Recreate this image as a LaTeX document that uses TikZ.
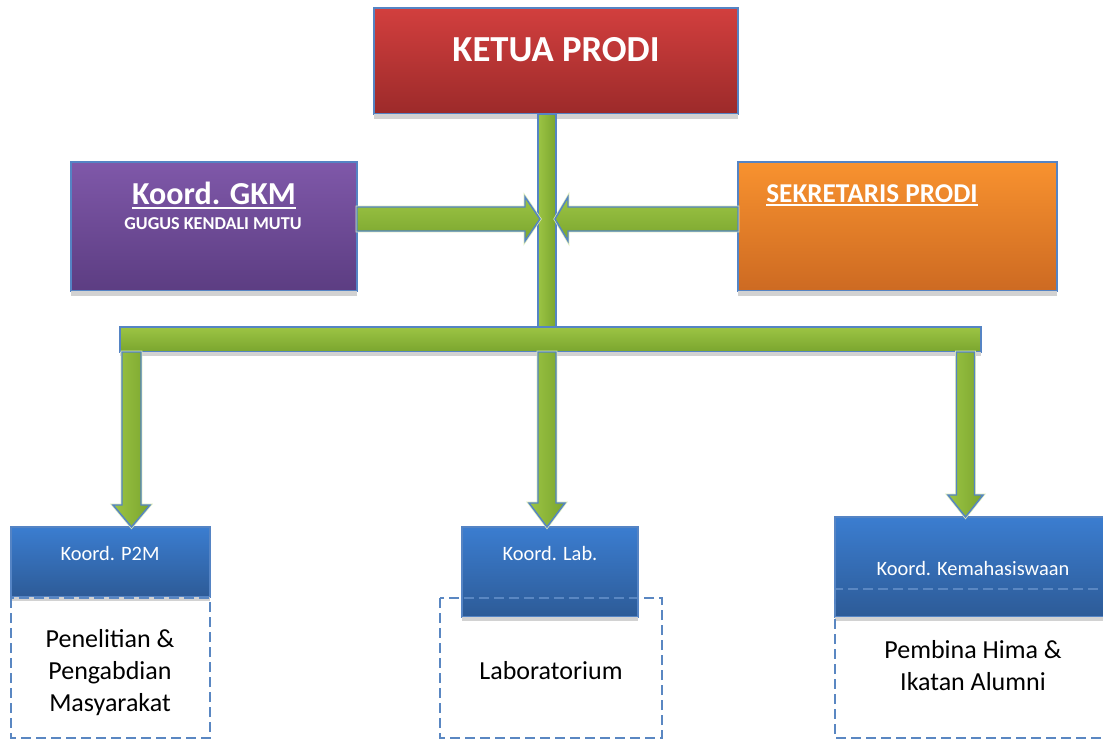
\documentclass[tikz,border=0pt]{standalone}
\usepackage{fontspec}
\setmainfont{Carlito}
\definecolor{redtop}{HTML}{D23F3E}
\definecolor{redbot}{HTML}{9C2A2A}
\definecolor{purtop}{HTML}{7F58A9}
\definecolor{purbot}{HTML}{5C3D82}
\definecolor{orgtop}{HTML}{F8922F}
\definecolor{orgbot}{HTML}{CD6A22}
\definecolor{blutop}{HTML}{3B7DD0}
\definecolor{blubot}{HTML}{2D5B97}
\definecolor{edge}{HTML}{5584C4}
\definecolor{dashcol}{HTML}{5A87C2}
\definecolor{grnlight}{HTML}{9CC444}
\definecolor{grndark}{HTML}{7AA52E}
\definecolor{glow}{HTML}{DCEBB8}
\definecolor{shadowcol}{HTML}{D2D2D2}
\begin{document}
\begin{tikzpicture}[x=0.75pt,y=-0.75pt,line join=miter]
\useasboundingbox (0,0) rectangle (1103,740);
\clip (0,0) rectangle (1103,740);
\tikzset{
  box/.style={draw=edge,line width=1.1pt,inner sep=0pt,outer sep=0pt},
  redbox/.style={box,top color=redtop,bottom color=redbot},
  purbox/.style={box,top color=purtop,bottom color=purbot},
  orgbox/.style={box,top color=orgtop,bottom color=orgbot},
  blubox/.style={box,top color=blutop,bottom color=blubot},
  hgreen/.style={draw=edge,line width=1.1pt,top color=grnlight,bottom color=grndark,
     preaction={draw=glow,line width=2.2pt}},
  vgreen/.style={draw=edge,line width=1.1pt,left color=grnlight,right color=grndark,
     preaction={draw=glow,line width=2.2pt}},
  dashbox/.style={draw=dashcol,line width=1.5pt,dash pattern=on 7.5pt off 3.75pt},
  txt/.style={inner sep=0pt,outer sep=0pt,anchor=base},
}
% ---------- boxes ----------
\node[redbox,minimum width={364*0.75pt},minimum height={106*0.75pt}] (ketua) at (556,61) {};
\node[purbox,minimum width={286*0.75pt},minimum height={129*0.75pt}] (gkm) at (214,226.5) {};
\node[orgbox,minimum width={319*0.75pt},minimum height={129*0.75pt}] (sek) at (897.5,226.5) {};
\fill[shadowcol] (ketua.south west) rectangle ([yshift=-3.5pt]ketua.south east);
\fill[shadowcol] (gkm.south west) rectangle ([yshift=-3.5pt]gkm.south east);
\fill[shadowcol] (sek.south west) rectangle ([yshift=-3.5pt]sek.south east);

\node[blubox,minimum width={199*0.75pt},minimum height={70*0.75pt}] (p2m) at (110.5,562) {};
\node[blubox,minimum width={176*0.75pt},minimum height={90*0.75pt}] (lab) at (550,572) {};
\node[blubox,minimum width={280*0.75pt},minimum height={100*0.75pt}] (kema) at (975,567) {};
\fill[shadowcol] (p2m.south west) rectangle ([yshift=-3pt]p2m.south east);
\fill[shadowcol] (lab.south west) rectangle ([yshift=-3pt]lab.south east);
\fill[shadowcol] (kema.south west) rectangle ([yshift=-3pt]kema.south east);

% ---------- connectors ----------
\coordinate (hub) at (547,219);
\coordinate (barc) at (550.5,339.5);
\path[vgreen] ([xshift=-6.75pt]ketua.south -| hub) rectangle ([xshift=6.75pt,yshift=-9pt]barc -| hub);
\node[hgreen,inner sep=0pt,outer sep=0pt,minimum width={861*0.75pt},minimum height={25*0.75pt}] (bar) at (barc) {};
\fill[shadowcol] (bar.south west) rectangle ([yshift=-3pt]bar.south east);

% horizontal arrows into the stem
\coordinate (tipL) at (540,219);
\coordinate (tipR) at (555,219);
\path[hgreen] (tipL) -- ++(-15,-22) -- ++(0,10) -- (gkm.east |- 0,207) -- (gkm.east |- 0,231) -- ++(168,0) -- ++(0,10) -- cycle;
\path[hgreen] (tipR) -- ++(13,-22) -- ++(0,10) -- (sek.west |- 0,207) -- (sek.west |- 0,231) -- ++(-170,0) -- ++(0,10) -- cycle;

% downward arrows
\coordinate (d1) at (131.5,527);
\coordinate (d2) at (547,527);
\coordinate (d3) at (965.5,517);
\path[vgreen] (d1) -- ++(-18.5,-22) -- ++(9,0) -- ++(0,-153) -- ++(19,0) -- ++(0,153) -- ++(9,0) -- cycle;
\path[vgreen] (d2) -- ++(-18,-24) -- ++(9,0) -- ++(0,-151) -- ++(18,0) -- ++(0,151) -- ++(9,0) -- cycle;
\path[vgreen] (d3) -- ++(-17.5,-22) -- ++(8.5,0) -- ++(0,-143) -- ++(18,0) -- ++(0,143) -- ++(8.5,0) -- cycle;

% ---------- dashed boxes ----------
\draw[dashbox] (11,598) rectangle (210,738);
\draw[dashbox] (440,598) rectangle (662,738);
\draw[dashbox] (835,589) rectangle (1125,738);

% ---------- texts ----------
\node[txt,text=white,font=\fontsize{27.5}{33}\selectfont\bfseries] (tk) at (556,61) {KETUA PRODI};
\node[txt,text=white,font=\fontsize{24}{29}\selectfont\bfseries] (tg) at (214,204) {Koord. GKM};
\draw[white,line width=1.5pt] ([yshift=-3pt]tg.base west) -- ([yshift=-3pt]tg.base east);
\node[txt,text=white,font=\fontsize{13.6}{16}\selectfont\bfseries] (tgs) at (213,229) {GUGUS KENDALI MUTU};
\node[txt,text=white,font=\fontsize{20.4}{25}\selectfont\bfseries] (ts) at (872,202) {SEKRETARIS PRODI};
\draw[white,line width=1.5pt] ([yshift=-2.5pt]ts.base west) -- ([yshift=-2.5pt]ts.base east);

\node[txt,text=white,font=\fontsize{15.3}{18}\selectfont] (tp) at (110,560) {Koord. P2M};
\node[txt,text=white,font=\fontsize{15.3}{18}\selectfont] (tl) at (550,560) {Koord. Lab.};
\node[txt,text=white,font=\fontsize{15.3}{18}\selectfont] (tkm) at (973,575) {Koord. Kemahasiswaan};

\node[txt,font=\fontsize{19.5}{24}\selectfont] (p1) at (110,647) {Penelitian \&};
\node[txt,font=\fontsize{19.5}{24}\selectfont] (p2) at (110,679) {Pengabdian};
\node[txt,font=\fontsize{19.5}{24}\selectfont] (p3) at (110,711) {Masyarakat};
\node[txt,font=\fontsize{19.5}{24}\selectfont] (l1) at (551,679) {Laboratorium};
\node[txt,font=\fontsize{19.5}{24}\selectfont] (k1) at (973,658) {Pembina Hima \&};
\node[txt,font=\fontsize{19.5}{24}\selectfont] (k2) at (973,690) {Ikatan Alumni};
\end{tikzpicture}
\end{document}
